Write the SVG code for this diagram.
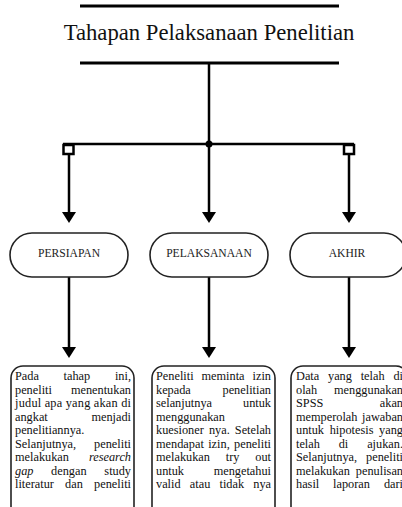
<svg xmlns="http://www.w3.org/2000/svg" width="402" height="507" viewBox="0 0 402 507">
<defs>
<style>
.t{font-family:"Liberation Serif","Times New Roman",serif;fill:#111;}
.b{font-size:12.3px;}
.i{font-style:italic;}
.e{text-anchor:end;}
.lbl{font-size:11.6px;text-anchor:middle;fill:#222;}
.ln{stroke:#000;stroke-width:2.5;fill:none;}
.pill{fill:#fff;stroke:#222;stroke-width:1.6;}
.box{fill:#fff;stroke:#222;stroke-width:1.6;}
.ah{fill:#000;}
</style>
</defs>
<rect width="402" height="507" fill="#fff"/>
<g id="title">
<line x1="80" y1="6" x2="339" y2="6" stroke="#000" stroke-width="3"/>
<text class="t" x="209" y="40" font-size="22.7" text-anchor="middle">Tahapan Pelaksanaan Penelitian</text>
<line x1="80" y1="63" x2="339" y2="63" stroke="#000" stroke-width="3"/>
</g>
<g id="connectors">
<line class="ln" x1="209" y1="63" x2="209" y2="213"/>
<line class="ln" x1="63" y1="144" x2="354" y2="144"/>
<circle cx="209" cy="144" r="3.5" fill="#000"/>
<rect x="63.5" y="145" width="10" height="9" fill="#fff" stroke="#000" stroke-width="2.5"/>
<rect x="344" y="145" width="10" height="9" fill="#fff" stroke="#000" stroke-width="2.5"/>
<line class="ln" x1="69" y1="154" x2="69" y2="213"/>
<line class="ln" x1="349" y1="154" x2="349" y2="213"/>
<polygon class="ah" points="62,212 76,212 69,223"/>
<polygon class="ah" points="202,212 216,212 209,223"/>
<polygon class="ah" points="342,212 356,212 349,223"/>
<line class="ln" x1="69" y1="277" x2="69" y2="348"/>
<line class="ln" x1="209" y1="277" x2="209" y2="348"/>
<line class="ln" x1="349" y1="277" x2="349" y2="348"/>
<polygon class="ah" points="62,347 76,347 69,358"/>
<polygon class="ah" points="202,347 216,347 209,358"/>
<polygon class="ah" points="342,347 356,347 349,358"/>
</g>
<g id="persiapan">
<rect class="pill" x="10" y="233" width="118" height="44" rx="22"/>
<text class="t lbl" x="69" y="257">PERSIAPAN</text>
</g>
<g id="pelaksanaan">
<rect class="pill" x="150" y="233" width="118" height="44" rx="22"/>
<text class="t lbl" x="209" y="257">PELAKSANAAN</text>
</g>
<g id="akhir">
<rect class="pill" x="290" y="233" width="116" height="44" rx="22"/>
<text class="t lbl" x="347" y="257">AKHIR</text>
</g>
<g id="desc-persiapan">
<rect class="box" x="11" y="366" width="123" height="170" rx="12"/>
<text class="t b" x="15" y="380">Pada</text>
<text class="t b" x="63.6" y="380">tahap</text>
<text class="t b e" x="131" y="380">ini,</text>
<text class="t b" x="15" y="393.5">peneliti</text>
<text class="t b e" x="131" y="393.5">menentukan</text>
<text class="t b" x="15" y="407" textLength="116" lengthAdjust="spacing">judul apa yang akan di</text>
<text class="t b" x="15" y="420.5">angkat</text>
<text class="t b e" x="131" y="420.5">menjadi</text>
<text class="t b" x="15" y="434">penelitiannya.</text>
<text class="t b" x="15" y="447.5">Selanjutnya,</text>
<text class="t b e" x="131" y="447.5">peneliti</text>
<text class="t b" x="15" y="461">melakukan</text>
<text class="t b i e" x="131" y="461">research</text>
<text class="t b i" x="15" y="474.5">gap</text>
<text class="t b" x="51.1" y="474.5">dengan</text>
<text class="t b e" x="131" y="474.5">study</text>
<text class="t b" x="15" y="488">literatur</text>
<text class="t b" x="65.1" y="488">dan</text>
<text class="t b e" x="131" y="488">peneliti</text>
</g>
<g id="desc-pelaksanaan">
<rect class="box" x="152" y="366" width="123" height="170" rx="12"/>
<text class="t b" x="156" y="380">Peneliti</text>
<text class="t b" x="201.5" y="380">meminta</text>
<text class="t b e" x="271" y="380">izin</text>
<text class="t b" x="156" y="393.5">kepada</text>
<text class="t b e" x="271" y="393.5">penelitian</text>
<text class="t b" x="156" y="407">selanjutnya</text>
<text class="t b e" x="271" y="407">untuk</text>
<text class="t b" x="156" y="420.5">menggunakan</text>
<text class="t b" x="156" y="434">kuesioner</text>
<text class="t b" x="208.9" y="434">nya.</text>
<text class="t b e" x="271" y="434">Setelah</text>
<text class="t b" x="156" y="447.5">mendapat</text>
<text class="t b" x="208.2" y="447.5">izin,</text>
<text class="t b e" x="271" y="447.5">peneliti</text>
<text class="t b" x="156" y="461">melakukan</text>
<text class="t b" x="225.8" y="461">try</text>
<text class="t b e" x="271" y="461">out</text>
<text class="t b" x="156" y="474.5">untuk</text>
<text class="t b e" x="271" y="474.5">mengetahui</text>
<text class="t b" x="156" y="488">valid</text>
<text class="t b" x="189.8" y="488">atau</text>
<text class="t b" x="219.5" y="488">tidak</text>
<text class="t b e" x="271" y="488">nya</text>
</g>
<g id="desc-akhir">
<rect class="box" x="291" y="366" width="117" height="170" rx="12"/>
<text class="t b" x="296" y="380">Data</text>
<text class="t b" x="328" y="380">yang</text>
<text class="t b" x="360.7" y="380">telah</text>
<text class="t b e" x="403" y="380">di</text>
<text class="t b" x="296" y="393.5">olah</text>
<text class="t b e" x="403" y="393.5">menggunakan</text>
<text class="t b" x="296" y="407">SPSS</text>
<text class="t b e" x="403" y="407">akan</text>
<text class="t b" x="296" y="420.5">memperolah</text>
<text class="t b e" x="403" y="420.5">jawaban</text>
<text class="t b" x="296" y="434">untuk</text>
<text class="t b" x="329.7" y="434">hipotesis</text>
<text class="t b e" x="403" y="434">yang</text>
<text class="t b" x="296" y="447.5">telah</text>
<text class="t b" x="338.7" y="447.5">di</text>
<text class="t b e" x="403" y="447.5">ajukan.</text>
<text class="t b" x="296" y="461">Selanjutnya,</text>
<text class="t b e" x="403" y="461">peneliti</text>
<text class="t b" x="296" y="474.5">melakukan</text>
<text class="t b e" x="403" y="474.5">penulisan</text>
<text class="t b" x="296" y="488">hasil</text>
<text class="t b" x="333.1" y="488">laporan</text>
<text class="t b e" x="403" y="488">dari</text>
</g>
</svg>
